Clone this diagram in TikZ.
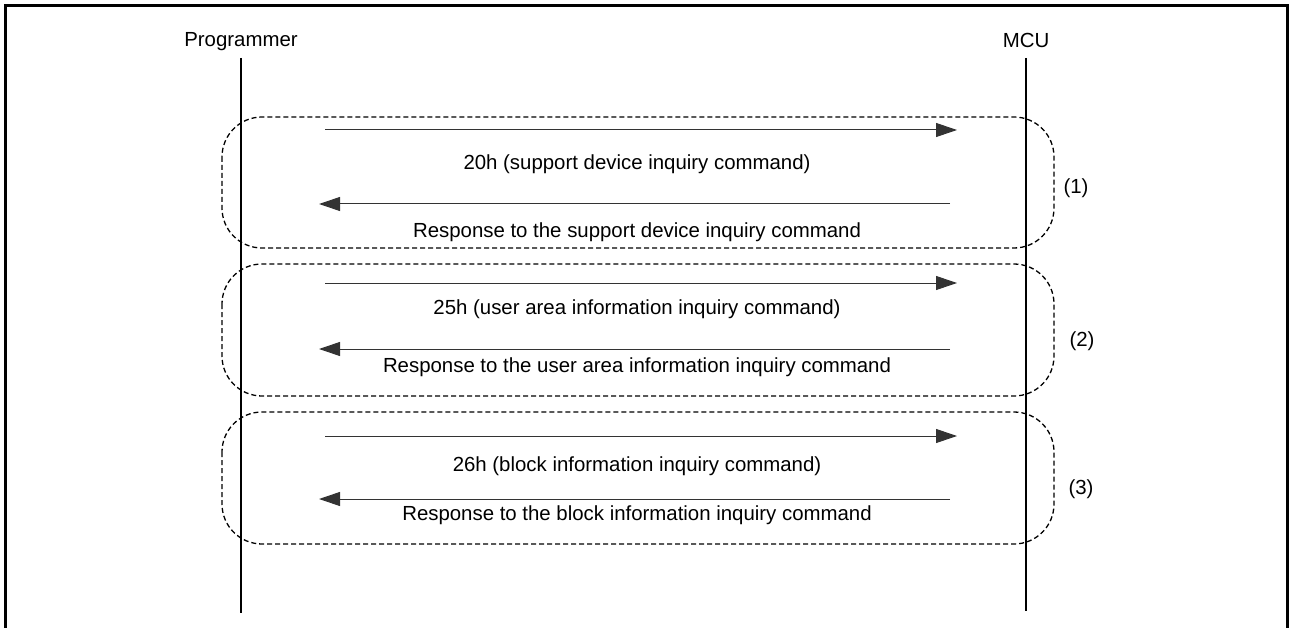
\documentclass[tikz,border=0pt]{standalone}
\usepackage{fontspec}
\setmainfont{Liberation Sans}
\usetikzlibrary{arrows.meta}
\begin{document}
\begin{tikzpicture}[x=1pt,y=-1pt,
  frameline/.style={line width=3pt},
  lifeline/.style={line width=2pt},
  groupbox/.style={line width=1.3pt, dash pattern=on 5pt off 3pt, rounded corners=40pt},
  msg/.style={line width=1pt, black!80, -{Triangle[length=21pt,width=14pt]}},
  lbl/.style={font=\fontsize{20.4}{24}\selectfont, inner sep=0pt, anchor=center},
]
\useasboundingbox (0,0) rectangle (1289,628);

% outer frame, open at the bottom
\draw[frameline] (5.5,628) -- (5.5,5.5) -- (1287.5,5.5) -- (1287.5,628);

% participants
\node[lbl] (prog) at (241,42) {Programmer};
\node[lbl] (mcu) at (1026,40) {MCU};
\coordinate (progtop) at (241,58);
\coordinate (progbot) at (241,613);
\coordinate (mcutop) at (1026,58);
\coordinate (mcubot) at (1026,611);
\draw[lifeline] (progtop) -- (progbot);
\draw[lifeline] (mcutop) -- (mcubot);

% grouping boxes
\draw[groupbox] (222,117) rectangle (1054,248);
\draw[groupbox] (222,264) rectangle (1054,396);
\draw[groupbox] (222,412) rectangle (1054,544);
\node[lbl] (g1) at (1076,188) {(1)};
\node[lbl] (g2) at (1082,341) {(2)};
\node[lbl] (g3) at (1081,489) {(3)};

% message end points
\coordinate (a1s) at (325,130);  \coordinate (a1e) at (957,130);
\coordinate (a2s) at (950,204);  \coordinate (a2e) at (319,204);
\coordinate (a3s) at (325,283);  \coordinate (a3e) at (957,283);
\coordinate (a4s) at (950,349);  \coordinate (a4e) at (319,349);
\coordinate (a5s) at (325,436);  \coordinate (a5e) at (957,436);
\coordinate (a6s) at (950,499);  \coordinate (a6e) at (319,499);

\draw[msg] (a1s) -- (a1e);
\draw[msg] (a2s) -- (a2e);
\draw[msg] (a3s) -- (a3e);
\draw[msg] (a4s) -- (a4e);
\draw[msg] (a5s) -- (a5e);
\draw[msg] (a6s) -- (a6e);

% message texts
\node[lbl] (t1) at (637,164) {20h (support device inquiry command)};
\node[lbl] (t2) at (637,232) {Response to the support device inquiry command};
\node[lbl] (t3) at (637,309) {25h (user area information inquiry command)};
\node[lbl] (t4) at (637,367) {Response to the user area information inquiry command};
\node[lbl] (t5) at (637,466) {26h (block information inquiry command)};
\node[lbl] (t6) at (637,515) {Response to the block information inquiry command};
\end{tikzpicture}
\end{document}
